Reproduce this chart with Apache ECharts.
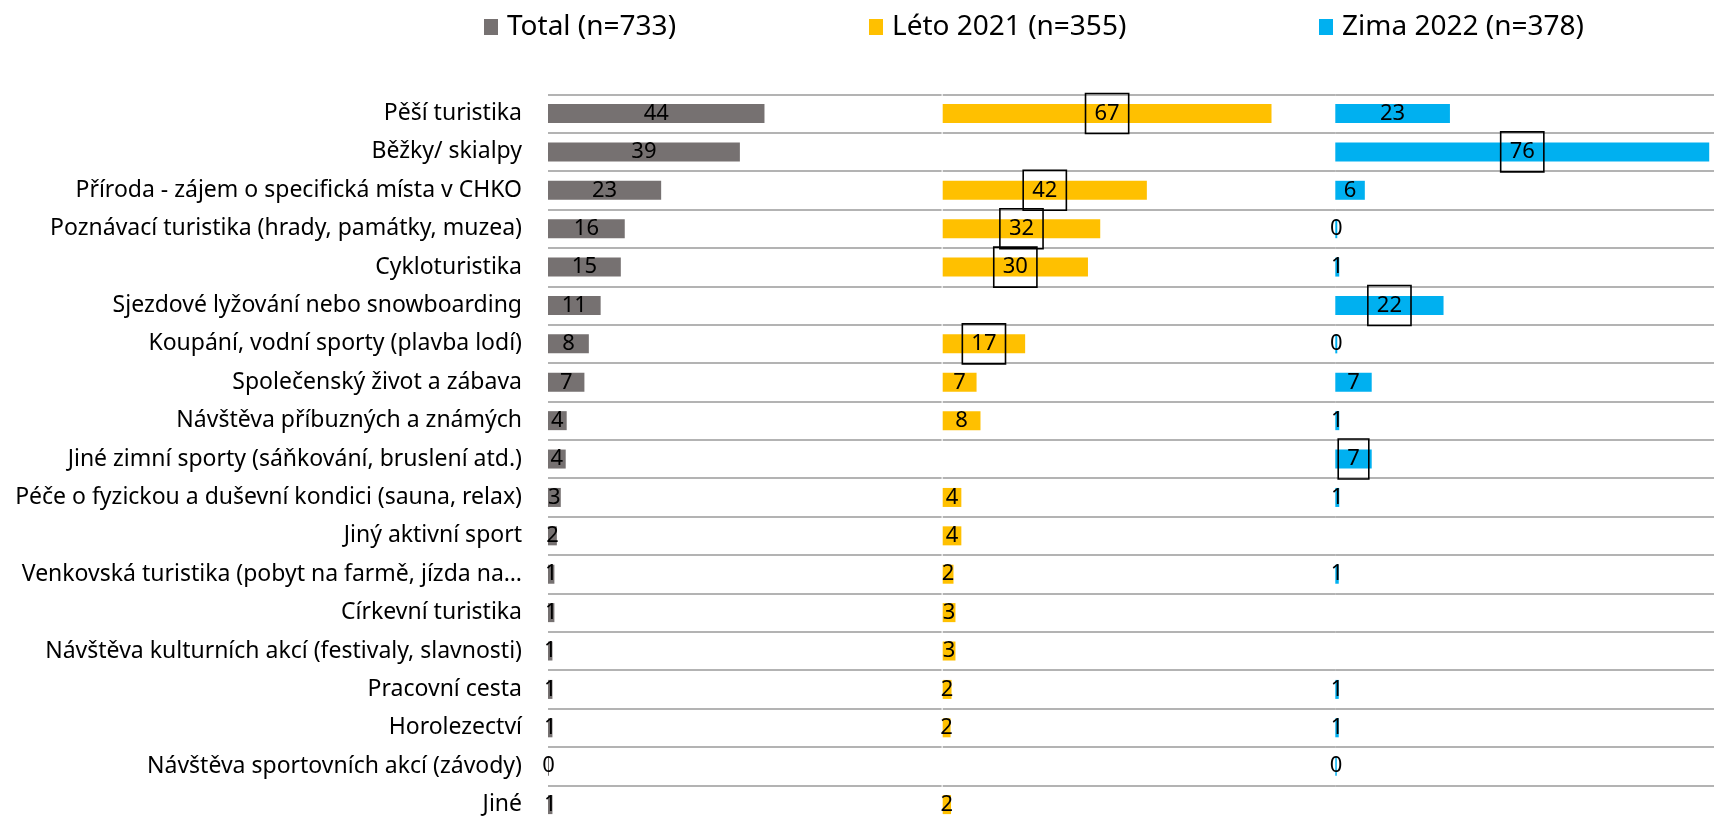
<!DOCTYPE html>
<html>
<head>
<meta charset="utf-8">
<script src="https://cdn.jsdelivr.net/npm/echarts@6/dist/echarts.min.js"></script>
<style>
html,body{margin:0;padding:0;background:#fff;}
#chart{width:1714px;height:821px;}
</style>
</head>
<body>
<div id="chart"></div>
<script>
const categories = [
  'Pěší turistika',
  'Běžky/ skialpy',
  'Příroda - zájem o specifická místa v CHKO',
  'Poznávací turistika (hrady, památky, muzea)',
  'Cykloturistika',
  'Sjezdové lyžování nebo snowboarding',
  'Koupání, vodní sporty (plavba lodí)',
  'Společenský život a zábava',
  'Návštěva příbuzných a známých',
  'Jiné zimní sporty (sáňkování, bruslení atd.)',
  'Péče o fyzickou a duševní kondici (sauna, relax)',
  'Jiný aktivní sport',
  'Venkovská turistika (pobyt na farmě, jízda na…',
  'Církevní turistika',
  'Návštěva kulturních akcí (festivaly, slavnosti)',
  'Pracovní cesta',
  'Horolezectví',
  'Návštěva sportovních akcí (závody)',
  'Jiné'
];
const seriesNames = ['Total (n=733)', 'Léto 2021 (n=355)', 'Zima 2022 (n=378)'];
const totalValues = [44, 39, 23, 15.6, 14.8, 10.7, 8.3, 7.4, 3.8, 3.6, 2.6, 1.8, 1.3, 1.3, 0.9, 0.9, 0.9, 0.2, 0.9];
const letoValues  = [67, null, 41.6, 32.1, 29.6, null, 16.8, 6.9, 7.7, null, 3.8, 3.8, 2.2, 2.6, 2.6, 1.8, 1.6, null, 1.7];
const zimaValues  = [23.3, 76, 6.0, 0.4, 0.8, 22, 0.4, 7.4, 0.8, 7.4, 0.8, null, 0.7, null, null, 0.7, 0.7, 0.3, null];
const letoBoxed = [0, 2, 3, 4, 6];
const zimaBoxed = [1, 5, 9];
const colors = ['#767171', '#FFC000', '#00B0F0'];

const FONT = 'Noto Sans';
const chart = echarts.init(document.getElementById('chart'));

const grids = [
  {left: 548, width: 393.6, max: 80},
  {left: 942.7, width: 392.6, max: 80},
  {left: 1335.3, width: 393.6, max: 80}
];
const TOP = 94.3, HEIGHT = 729.5;

function buildData(values, boxed) {
  return values.map((v, i) => {
    if (v === null) return {value: null};
    if (boxed && boxed.indexOf(i) >= 0) {
      return {value: v, label: {borderColor: '#000', borderWidth: 1.6, padding: [8, 9, 8, 9]}};
    }
    return {value: v};
  });
}

const allValues = [totalValues, letoValues, zimaValues];
const allBoxed = [null, letoBoxed, zimaBoxed];

const option = {
  animation: false,
  backgroundColor: '#fff',
  textStyle: {fontFamily: FONT},
  legend: [0, 1, 2].map((k) => ({
    data: [seriesNames[k]],
    left: [479, 864, 1314][k],
    top: 8,
    icon: 'rect',
    itemWidth: 14,
    itemHeight: 16,
    textStyle: {fontFamily: FONT, fontSize: 28, color: '#000', padding: [0, 0, 0, 4]}
  })),
  grid: grids.map(g => ({
    left: g.left, width: g.width, top: TOP, height: HEIGHT,
    containLabel: false, outerBoundsMode: 'none'
  })),
  xAxis: grids.map((g, k) => ({
    type: 'value', gridIndex: k, min: 0, max: g.max, show: false
  })),
  yAxis: grids.map((g, k) => ({
    type: 'category', gridIndex: k, data: categories, inverse: true,
    axisLine: {show: false},
    axisTick: {show: false, interval: 0},
    axisLabel: {
      show: k === 0, interval: 0, margin: 26,
      fontFamily: FONT, fontSize: 23, color: '#000'
    },
    splitLine: {show: true, interval: 0, lineStyle: {color: '#9a9a9a', width: 1.6}}
  })),
  series: [0, 1, 2].map(k => ({
    name: seriesNames[k],
    type: 'bar',
    xAxisIndex: k, yAxisIndex: k,
    barWidth: 19,
    itemStyle: {color: colors[k]},
    label: {
      show: true, position: 'inside', color: '#000',
      fontFamily: FONT, fontSize: 22, lineHeight: 24,
      formatter: p => (p.value === null || p.value === undefined) ? '' : String(Math.round(p.value))
    },
    data: buildData(allValues[k], allBoxed[k])
  }))
};
chart.setOption(option);
</script>
</body>
</html>
